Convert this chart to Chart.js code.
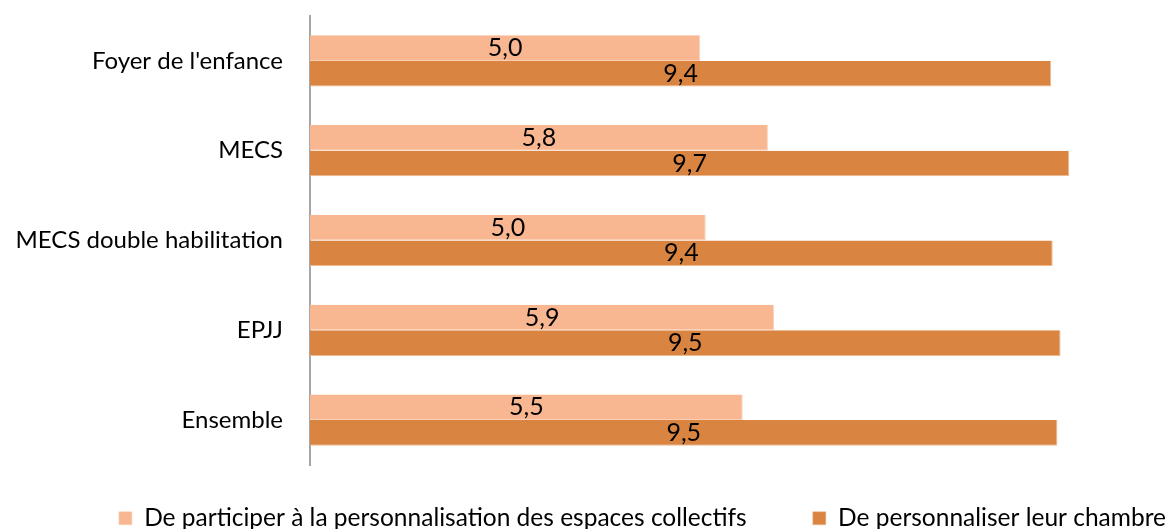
<!DOCTYPE html>
<html>
<head>
<meta charset="utf-8">
<script src="https://cdn.jsdelivr.net/npm/chart.js@4/dist/chart.umd.min.js"></script>
<style>
  html, body { margin: 0; padding: 0; background: #fff; }
  #wrap { width: 1166px; height: 529px; position: relative; }
</style>
</head>
<body>
<div id="wrap"><canvas id="c" width="1166" height="529"></canvas></div>
<script>
const categories = ["Foyer de l'enfance", "MECS", "MECS double habilitation", "EPJJ", "Ensemble"];
const seriesNames = ["De participer à la personnalisation des espaces collectifs", "De personnaliser leur chambre"];
const espacesCollectifs = [4.96, 5.82, 5.03, 5.90, 5.50];
const chambre = [9.42, 9.65, 9.44, 9.54, 9.50];

const FONT = "Lato, 'Open Sans', sans-serif";

const barLabels = {
  id: 'barLabels',
  afterDatasetsDraw(chart) {
    const ctx = chart.ctx;
    ctx.save();
    ctx.font = "25px " + FONT;
    ctx.fillStyle = '#000';
    ctx.textAlign = 'center';
    ctx.textBaseline = 'middle';
    chart.data.datasets.forEach((ds, di) => {
      const meta = chart.getDatasetMeta(di);
      meta.data.forEach((bar, i) => {
        const v = ds.data[i];
        const txt = v.toFixed(1).replace('.', ',');
        const cx = (bar.x + bar.base) / 2;
        ctx.fillText(txt, cx, bar.y);
      });
    });
    ctx.restore();
  }
};

new Chart(document.getElementById('c'), {
  type: 'bar',
  data: {
    labels: categories,
    datasets: [
      { label: seriesNames[0] + '    ', data: espacesCollectifs, backgroundColor: '#F8B791', borderColor: '#FAD0B5', borderWidth: {top: 0, bottom: 1, left: 0, right: 1}, borderSkipped: false },
      { label: seriesNames[1], data: chambre, backgroundColor: '#D98440', borderColor: '#EDB98F', borderWidth: {top: 0, bottom: 1, left: 0, right: 1}, borderSkipped: false }
    ]
  },
  options: {
    indexAxis: 'y',
    responsive: false,
    animation: false,
    devicePixelRatio: 1,
    layout: { padding: { left: 0, right: -41, top: 16, bottom: -11.5 } },
    datasets: { bar: { categoryPercentage: 0.57, barPercentage: 1.0 } },
    scales: {
      x: { display: false, min: 0, max: 10.88 },
      y: {
        afterFit: s => { s.width = 310; s.paddingTop = 0; s.paddingBottom = 0; },
        grid: { display: false, drawTicks: false },
        border: { display: true, color: '#A6A6A6', width: 2 },
        ticks: { color: '#000', padding: 27, font: { family: FONT, size: 24 } }
      }
    },
    plugins: {
      legend: {
        position: 'bottom',
        align: 'end',
        labels: {
          boxWidth: 13, boxHeight: 13, padding: 41,
          color: '#000',
          font: { family: FONT, size: 24.5 }
        }
      },
      tooltip: { enabled: false }
    }
  },
  plugins: [barLabels]
});
</script>
</body>
</html>
